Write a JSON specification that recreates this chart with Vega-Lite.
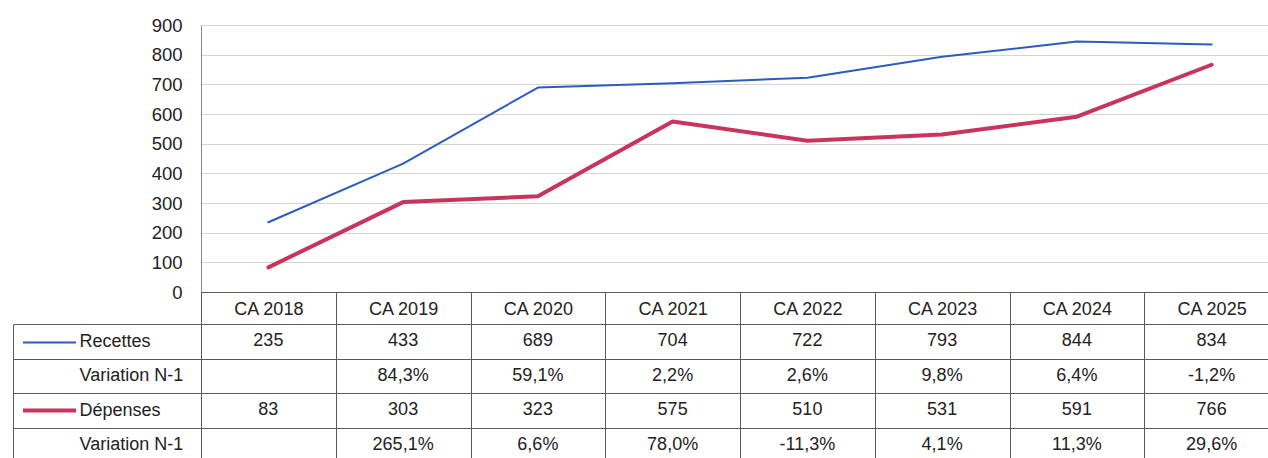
{
  "$schema": "https://vega.github.io/schema/vega-lite/v6.json",
  "padding": {"left": 12, "top": 16, "right": 0, "bottom": 0},
  "autosize": {"type": "pad"},
  "background": "white",
  "config": {
    "view": {"stroke": null},
    "font": "Liberation Sans",
    "axis": {"labelFont": "Liberation Sans", "labelColor": "#222222", "labelFontSize": 18, "title": null},
    "text": {"font": "Liberation Sans", "fontSize": 18, "color": "#222222"}
  },
  "datasets": {
    "series": [
      {"annee": "CA 2018", "serie": "Recettes", "valeur": 235},
      {"annee": "CA 2019", "serie": "Recettes", "valeur": 433},
      {"annee": "CA 2020", "serie": "Recettes", "valeur": 689},
      {"annee": "CA 2021", "serie": "Recettes", "valeur": 704},
      {"annee": "CA 2022", "serie": "Recettes", "valeur": 722},
      {"annee": "CA 2023", "serie": "Recettes", "valeur": 793},
      {"annee": "CA 2024", "serie": "Recettes", "valeur": 844},
      {"annee": "CA 2025", "serie": "Recettes", "valeur": 834},
      {"annee": "CA 2018", "serie": "Dépenses", "valeur": 83},
      {"annee": "CA 2019", "serie": "Dépenses", "valeur": 303},
      {"annee": "CA 2020", "serie": "Dépenses", "valeur": 323},
      {"annee": "CA 2021", "serie": "Dépenses", "valeur": 575},
      {"annee": "CA 2022", "serie": "Dépenses", "valeur": 510},
      {"annee": "CA 2023", "serie": "Dépenses", "valeur": 531},
      {"annee": "CA 2024", "serie": "Dépenses", "valeur": 591},
      {"annee": "CA 2025", "serie": "Dépenses", "valeur": 766}
    ],
    "montants": [
      {"annee": "CA 2018", "ligne": "r1", "texte": "235"},
      {"annee": "CA 2019", "ligne": "r1", "texte": "433"},
      {"annee": "CA 2020", "ligne": "r1", "texte": "689"},
      {"annee": "CA 2021", "ligne": "r1", "texte": "704"},
      {"annee": "CA 2022", "ligne": "r1", "texte": "722"},
      {"annee": "CA 2023", "ligne": "r1", "texte": "793"},
      {"annee": "CA 2024", "ligne": "r1", "texte": "844"},
      {"annee": "CA 2025", "ligne": "r1", "texte": "834"},
      {"annee": "CA 2018", "ligne": "r3", "texte": "83"},
      {"annee": "CA 2019", "ligne": "r3", "texte": "303"},
      {"annee": "CA 2020", "ligne": "r3", "texte": "323"},
      {"annee": "CA 2021", "ligne": "r3", "texte": "575"},
      {"annee": "CA 2022", "ligne": "r3", "texte": "510"},
      {"annee": "CA 2023", "ligne": "r3", "texte": "531"},
      {"annee": "CA 2024", "ligne": "r3", "texte": "591"},
      {"annee": "CA 2025", "ligne": "r3", "texte": "766"}
    ],
    "variations": [
      {"annee": "CA 2019", "ligne": "r2", "texte": "84,3%"},
      {"annee": "CA 2020", "ligne": "r2", "texte": "59,1%"},
      {"annee": "CA 2021", "ligne": "r2", "texte": "2,2%"},
      {"annee": "CA 2022", "ligne": "r2", "texte": "2,6%"},
      {"annee": "CA 2023", "ligne": "r2", "texte": "9,8%"},
      {"annee": "CA 2024", "ligne": "r2", "texte": "6,4%"},
      {"annee": "CA 2025", "ligne": "r2", "texte": "-1,2%"},
      {"annee": "CA 2019", "ligne": "r4", "texte": "265,1%"},
      {"annee": "CA 2020", "ligne": "r4", "texte": "6,6%"},
      {"annee": "CA 2021", "ligne": "r4", "texte": "78,0%"},
      {"annee": "CA 2022", "ligne": "r4", "texte": "-11,3%"},
      {"annee": "CA 2023", "ligne": "r4", "texte": "4,1%"},
      {"annee": "CA 2024", "ligne": "r4", "texte": "11,3%"},
      {"annee": "CA 2025", "ligne": "r4", "texte": "29,6%"}
    ]
  },
  "spacing": 32,
  "bounds": "flush",
  "vconcat": [
    {
      "width": 1078,
      "height": 267,
      "data": {"name": "series"},
      "mark": {"type": "line", "strokeCap": "round", "strokeJoin": "round"},
      "encoding": {
        "x": {
          "field": "annee", "type": "nominal", "bandPosition": 0.5,
          "scale": {"type": "band", "paddingInner": 0, "paddingOuter": 0},
          "axis": {"orient": "bottom", "labelAngle": 0, "tickBand": "extent", "tickSize": 32, "tickColor": "#5a5a5a", "domainColor": "#5a5a5a", "labelPadding": -15, "labelBaseline": "middle", "grid": false, "zindex": 2}
        },
        "y": {
          "field": "valeur", "type": "quantitative",
          "scale": {"domain": [0, 900], "nice": false},
          "axis": {"values": [0, 100, 200, 300, 400, 500, 600, 700, 800, 900], "ticks": false, "labelPadding": 19, "labelFontSize": 18.5, "grid": true, "gridColor": "#d4d4d4", "domainColor": "#8a8a8a"}
        },
        "color": {
          "field": "serie", "type": "nominal",
          "scale": {"domain": ["Recettes", "Dépenses"], "range": ["#2c5dbd", "#c9345c"]},
          "legend": {"orient": "none", "legendX": -180, "legendY": 290, "title": null, "labelExpr": "''", "symbolType": "stroke", "symbolSize": 2809, "rowPadding": 34, "padding": 0, "direction": "vertical"}
        },
        "strokeWidth": {
          "field": "serie", "type": "ordinal",
          "scale": {"domain": ["Recettes", "Dépenses"], "range": [2, 4]},
          "legend": {"orient": "none", "legendX": -180, "legendY": 290, "title": null, "labelExpr": "''", "symbolType": "stroke", "symbolSize": 2809, "rowPadding": 34, "padding": 0, "direction": "vertical"}
        }
      }
    },
    {
      "width": 1078,
      "height": 138,
      "layer": [
        {
          "data": {"name": "montants"},
          "mark": {"type": "text"},
          "encoding": {
            "x": {
              "field": "annee", "type": "nominal",
              "scale": {"type": "band", "paddingInner": 0, "paddingOuter": 0, "domain": ["CA 2018", "CA 2019", "CA 2020", "CA 2021", "CA 2022", "CA 2023", "CA 2024", "CA 2025"]},
              "axis": {"orient": "top", "labels": false, "ticks": false, "grid": true, "tickBand": "extent", "gridColor": "#5a5a5a", "domainColor": "#5a5a5a"}
            },
            "y": {
              "field": "ligne", "type": "nominal",
              "scale": {"domain": ["r1", "r2", "r3", "r4"], "paddingInner": 0, "paddingOuter": 0},
              "axis": {"orient": "left", "tickBand": "extent", "tickSize": 188, "tickColor": "#5a5a5a", "grid": true, "gridColor": "#5a5a5a", "domain": true, "domainColor": "#5a5a5a", "labelAlign": "left", "labelPadding": -66, "labelBaseline": "middle", "labelExpr": "datum.value == 'r1' ? 'Recettes' : datum.value == 'r3' ? 'Dépenses' : (datum.value == 'r2' || datum.value == 'r4') ? 'Variation N-1' : ''"}
            },
            "text": {"field": "texte"}
          }
        },
        {
          "data": {"name": "variations"},
          "mark": {"type": "text"},
          "encoding": {
            "x": {
              "field": "annee", "type": "nominal",
              "scale": {"type": "band", "paddingInner": 0, "paddingOuter": 0, "domain": ["CA 2018", "CA 2019", "CA 2020", "CA 2021", "CA 2022", "CA 2023", "CA 2024", "CA 2025"]},
              "axis": {"orient": "top", "labels": false, "ticks": false, "grid": true, "tickBand": "extent", "gridColor": "#5a5a5a", "domainColor": "#5a5a5a"}
            },
            "y": {
              "field": "ligne", "type": "nominal",
              "scale": {"domain": ["r1", "r2", "r3", "r4"], "paddingInner": 0, "paddingOuter": 0},
              "axis": {"orient": "left", "offset": 188, "labels": false, "ticks": false, "grid": false, "domain": true, "domainColor": "#5a5a5a"}
            },
            "text": {"field": "texte"}
          }
        }
      ],
      "resolve": {"scale": {"y": "independent"}, "axis": {"y": "independent"}}
    }
  ]
}
